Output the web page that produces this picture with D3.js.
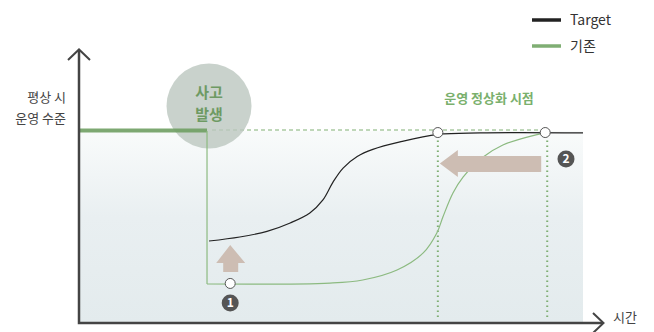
<!DOCTYPE html>
<html>
<head>
<meta charset="utf-8">
<script src="https://cdn.jsdelivr.net/npm/d3@7"></script>
<style>
  body { margin: 0; background: #fff; }
  text { font-family: "Noto Sans CJK KR", "Noto Sans", sans-serif; }
</style>
</head>
<body>
<svg id="chart" width="654" height="332"></svg>
<script>
// data
const seriesNames = ["Target", "기존"];
const seriesColors = ["#222222", "#7fae73"];

const incidentTime = 25.4;
const normalLevel = 100;
const endTime = 100;

// Target recovery curve (time, level)
const targetTime  = [25.8, 31.9, 37.3, 41.9, 45.8, 48.4, 50.4, 52.4, 55.2, 58.3, 63.7, 71.2, 79.6, 100];
const targetLevel = [42.7, 44.8, 47.7, 52.1, 57.3, 64.1, 73.4, 80.7, 86.7, 90.4, 94.3, 98.2, 99.0, 99.0];

// 기존 recovery curve
const baseTime  = [25.4, 49.8, 56.3, 63.1, 68.3, 71.0, 72.2, 74.2, 76.2, 80.2, 84.1, 87.5, 92.5];
const baseLevel = [20.3, 20.8, 22.4, 27.6, 36.5, 46.9, 55.2, 67.7, 76.0, 86.5, 92.7, 95.8, 99.0];

// recovery points
const pointTime  = [30.0, 71.2, 92.5];
const pointLevel = [20.6, 99.2, 99.2];

const yLabel = ["평상 시", "운영 수준"];
const xLabel = "시간";
const incidentLabel = ["사고", "발생"];
const normalLabel = "운영 정상화 시점";

const width = 654, height = 332;
const svg = d3.select("#chart");

const x = d3.scaleLinear().domain([0, endTime]).range([79, 583]);
const y = d3.scaleLinear().domain([0, normalLevel]).range([323, 131]);

// background gradient
const defs = svg.append("defs");
const grad = defs.append("linearGradient").attr("id", "bg")
    .attr("x1", 0).attr("y1", 0).attr("x2", 0).attr("y2", 1);
grad.append("stop").attr("offset", "0%").attr("stop-color", "#f9fbfb");
grad.append("stop").attr("offset", "45%").attr("stop-color", "#e9eff1");
grad.append("stop").attr("offset", "100%").attr("stop-color", "#e3ebed");

svg.append("rect")
    .attr("x", x(0)).attr("y", y(normalLevel))
    .attr("width", x(endTime) - x(0))
    .attr("height", y(0) - y(normalLevel))
    .attr("fill", "url(#bg)");

// dashed normal level
svg.append("line")
    .attr("x1", x(incidentTime) + 5).attr("x2", x(pointTime[2]))
    .attr("y1", y(normalLevel) - 1).attr("y2", y(normalLevel) - 1)
    .attr("stroke", "#7fae73").attr("stroke-width", 1)
    .attr("stroke-dasharray", "4,3");

// dotted verticals
svg.selectAll(".vdot")
    .data([pointTime[1], pointTime[2] + 0.4])
    .join("line")
    .attr("x1", d => x(d)).attr("x2", d => x(d))
    .attr("y1", y(95)).attr("y2", y(1.5))
    .attr("stroke", "#7fae73").attr("stroke-width", 2)
    .attr("stroke-dasharray", "1.5,3.5");

// incident bubble
svg.append("circle")
    .attr("cx", x(incidentTime) + 2).attr("cy", y(113))
    .attr("r", 42.5)
    .attr("fill", "#bcc7bf").attr("fill-opacity", 0.8);

svg.append("g").selectAll("text")
    .data(incidentLabel)
    .join("text")
    .attr("x", x(incidentTime) + 2)
    .attr("y", (d, i) => y(113) - 8 + i * 22)
    .attr("text-anchor", "middle")
    .attr("font-size", 15).attr("font-weight", "bold")
    .attr("fill", "#6e9a63")
    .text(d => d);

// pre-incident thick green line
svg.append("line")
    .attr("x1", x(0)).attr("x2", x(incidentTime))
    .attr("y1", y(normalLevel) - 0.5).attr("y2", y(normalLevel) - 0.5)
    .attr("stroke", "#6f9f63").attr("stroke-width", 4).attr("stroke-opacity", 0.9);

// 기존 line with drop
const line = d3.line().x(d => x(d[0])).y(d => y(d[1]));
const curve = d3.line().x(d => x(d[0])).y(d => y(d[1])).curve(d3.curveCatmullRom.alpha(0.5));

const basePts = baseTime.map((t, i) => [t, baseLevel[i]]);
svg.append("path")
    .attr("d", line([[incidentTime, normalLevel], [incidentTime, baseLevel[0]]]) )
    .attr("fill", "none").attr("stroke", "#8cba80").attr("stroke-width", 1.2);
svg.append("path")
    .attr("d", curve(basePts))
    .attr("fill", "none").attr("stroke", "#8cba80").attr("stroke-width", 1.2);

// Target line
const targetPts = targetTime.map((t, i) => [t, targetLevel[i]]);
svg.append("path")
    .attr("d", curve(targetPts))
    .attr("fill", "none").attr("stroke", "#222").attr("stroke-width", 1.2);

// up arrow (improvement 1)
const ax = x(pointTime[0]);
svg.append("path")
    .attr("d", `M${ax},245 L${ax + 15},263 L${ax + 8},263 L${ax + 8},272 L${ax - 7},272 L${ax - 7},263 L${ax - 14},263 Z`)
    .attr("fill", "#cdbdb3");

// left arrow (improvement 2)
const lx = x(pointTime[1]) + 2, rx = x(pointTime[2]) - 4, cy = 163.5;
svg.append("path")
    .attr("d", `M${lx},${cy} L${lx + 18},${cy - 13.5} L${lx + 18},${cy - 7.5} L${rx},${cy - 7.5} L${rx},${cy + 8.5} L${lx + 18},${cy + 8.5} L${lx + 18},${cy + 13.5} Z`)
    .attr("fill", "#cdbdb3");

// recovery point markers
svg.selectAll(".pt")
    .data(pointTime.map((t, i) => [t, pointLevel[i]]))
    .join("circle")
    .attr("cx", d => x(d[0])).attr("cy", d => y(d[1]))
    .attr("r", 5)
    .attr("fill", "#fff").attr("stroke", "#555").attr("stroke-width", 1);

// numbered badges
const badges = [
    { n: "1", cx: x(pointTime[0]), cy: 303 },
    { n: "2", cx: 566, cy: 159 }
];
const bg = svg.selectAll(".badge").data(badges).join("g")
    .attr("transform", d => `translate(${d.cx},${d.cy})`);
bg.append("circle").attr("r", 8.5).attr("fill", "#555");
bg.append("text").attr("text-anchor", "middle").attr("dy", "0.36em")
    .attr("font-size", 12).attr("font-weight", "bold").attr("fill", "#fff")
    .text(d => d.n);

// axes
const axisColor = "#444";
svg.append("path")
    .attr("d", `M${x(0)},50 L${x(0)},${y(0)} L603,${y(0)}`)
    .attr("fill", "none").attr("stroke", axisColor).attr("stroke-width", 2.5);
svg.append("path")
    .attr("d", `M${x(0) - 11},60 L${x(0)},49.5 L${x(0) + 11},60`)
    .attr("fill", "none").attr("stroke", axisColor).attr("stroke-width", 2);
svg.append("path")
    .attr("d", `M593,${y(0) - 10} L603.5,${y(0)} L593,${y(0) + 10}`)
    .attr("fill", "none").attr("stroke", axisColor).attr("stroke-width", 2);

// axis labels
svg.append("g").selectAll("text")
    .data(yLabel)
    .join("text")
    .attr("x", 66)
    .attr("y", (d, i) => 102 + i * 21)
    .attr("text-anchor", "end")
    .attr("font-size", 13).attr("fill", "#444")
    .text(d => d);

svg.append("text")
    .attr("x", 613).attr("y", 322)
    .attr("font-size", 13).attr("fill", "#444")
    .text(xLabel);

svg.append("text")
    .attr("x", 489).attr("y", 103)
    .attr("text-anchor", "middle")
    .attr("font-size", 13).attr("font-weight", "bold")
    .attr("fill", "#7ab06d")
    .text(normalLabel);

// legend
const legend = svg.append("g").selectAll("g")
    .data(seriesNames)
    .join("g")
    .attr("transform", (d, i) => `translate(532, ${20 + i * 26})`);
legend.append("line")
    .attr("x1", 0).attr("x2", 29)
    .attr("stroke", (d, i) => seriesColors[i]).attr("stroke-width", 3.5);
legend.append("text")
    .attr("x", 38).attr("dy", "0.35em")
    .attr("font-size", 14).attr("fill", "#333")
    .text(d => d);
</script>
</body>
</html>
